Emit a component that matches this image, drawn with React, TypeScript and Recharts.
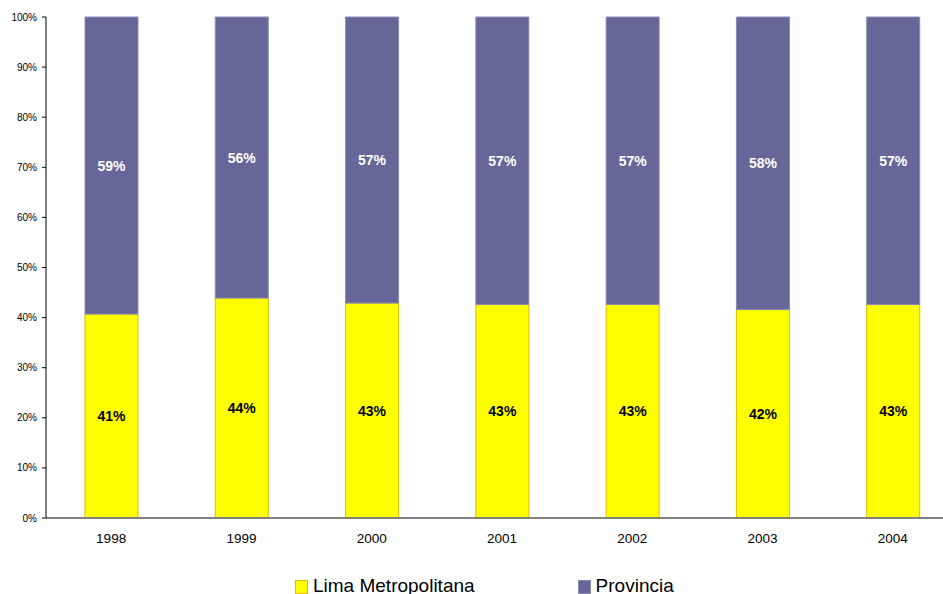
import { BarChart, Bar, XAxis, YAxis, Legend, LabelList } from 'recharts';

const years = ['1998', '1999', '2000', '2001', '2002', '2003', '2004'];
const lima = [40.7, 43.9, 42.9, 42.6, 42.6, 41.6, 42.6];
const provincia = [59.3, 56.1, 57.1, 57.4, 57.4, 58.4, 57.4];
const yTicks = [0, 10, 20, 30, 40, 50, 60, 70, 80, 90, 100];

const data = years.map((year, i) => ({
  year,
  lima: lima[i],
  provincia: provincia[i],
}));

const FONT = '"Liberation Sans", Arial, sans-serif';

const series = [
  { key: 'lima', name: 'Lima Metropolitana', fill: '#FFFF00', stroke: '#E8B800', label: '#000000' },
  { key: 'provincia', name: 'Provincia', fill: '#666699', stroke: '#8A8AB8', label: '#FFFFFF' },
];

const pct = (v: number) => `${Math.round(v)}%`;

function LegendRow() {
  return (
    <div style={{ display: 'flex', paddingLeft: 295, fontFamily: FONT, fontSize: 19, lineHeight: '19px', color: '#000' }}>
      {series.map((s, i) => (
        <div key={s.key} style={{ display: 'flex', alignItems: 'flex-end', marginRight: i === 0 ? 103 : 0 }}>
          <span
            style={{
              display: 'inline-block',
              width: 11,
              height: 12,
              background: s.fill,
              border: `1px solid ${s.stroke}`,
              marginRight: 5,
              marginBottom: 1,
            }}
          />
          <span>{s.name}</span>
        </div>
      ))}
    </div>
  );
}

export default function App() {
  return (
    <div style={{ position: 'absolute', left: 0, top: 0, width: 943, height: 594, overflow: 'hidden', background: '#fff' }}>
      <BarChart
        width={958}
        height={594}
        data={data}
        margin={{ top: 17, right: 0, left: 0, bottom: 46 }}
        barSize={53}
      >
        <XAxis
          dataKey="year"
          height={30}
          axisLine={{ stroke: '#808080', strokeWidth: 2 }}
          tickLine={false}
          tickSize={0}
          tickMargin={15}
          tick={{ fill: '#000', fontSize: 13.5, fontFamily: FONT }}
        />
        <YAxis
          width={46}
          domain={[0, 100]}
          ticks={yTicks}
          interval={0}
          tickFormatter={(v: number) => `${v}%`}
          axisLine={{ stroke: '#000' }}
          tickLine={{ stroke: '#000' }}
          tickSize={4}
          tickMargin={5}
          tick={{ fill: '#000', fontSize: 10, fontFamily: FONT }}
        />
        <Legend
          layout="horizontal"
          verticalAlign="middle"
          align="center"
          wrapperStyle={{ top: 576, left: 0 }}
          content={() => <LegendRow />}
        />
        {series.map((s) => (
          <Bar
            key={s.key}
            dataKey={s.key}
            name={s.name}
            stackId="a"
            fill={s.fill}
            stroke={s.stroke}
            strokeWidth={1}
            isAnimationActive={false}
          >
            <LabelList
              dataKey={s.key}
              position="center"
              formatter={(v: any) => pct(Number(v))}
              style={{ fill: s.label, fontSize: 14, fontWeight: 'bold', fontFamily: FONT }}
            />
          </Bar>
        ))}
      </BarChart>
    </div>
  );
}
